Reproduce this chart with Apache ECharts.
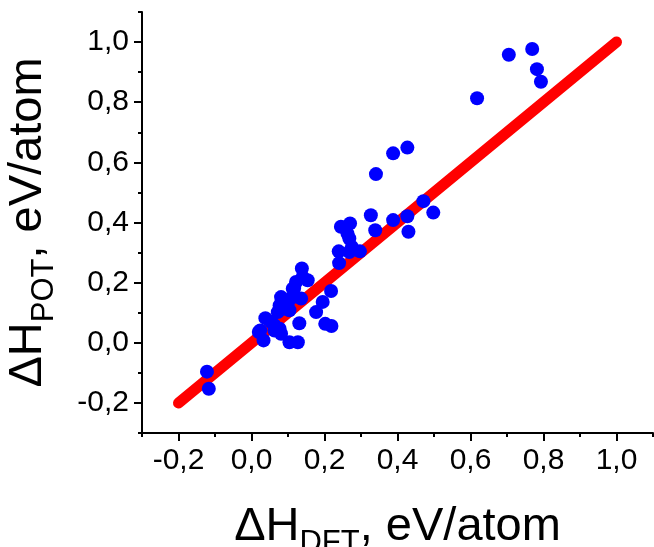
<!DOCTYPE html>
<html>
<head>
<meta charset="utf-8">
<script src="https://cdn.jsdelivr.net/npm/echarts@6/dist/echarts.min.js"></script>
<style>
html,body{margin:0;padding:0;background:#fff;overflow:hidden;}
#chart{position:absolute;left:0;top:0;width:654px;height:547px;}
</style>
</head>
<body>
<div id="chart"></div>
<script>
// ΔH_DFT values (x)
const dftValues = [-0.122, -0.117, 0.020, 0.033, 0.038, 0.024, 0.054, 0.063, 0.077, 0.081,
  0.104, 0.127, 0.131, 0.072, 0.077, 0.104, 0.086, 0.081, 0.099, 0.095,
  0.113, 0.117, 0.136, 0.110, 0.138, 0.140, 0.154, 0.122, 0.177, 0.195,
  0.202, 0.219, 0.218, 0.240, 0.239, 0.245, 0.270, 0.268, 0.263, 0.275,
  0.268, 0.297, 0.327, 0.339, 0.341, 0.388, 0.427, 0.388, 0.427, 0.430,
  0.471, 0.498, 0.618, 0.705, 0.769, 0.782, 0.793, 0.063];
// ΔH_POT values (y)
const potValues = [-0.096, -0.153, 0.036, 0.008, 0.082, 0.041, 0.069, 0.041, 0.047, 0.030,
  0.002, 0.002, 0.065, 0.102, 0.124, 0.108, 0.113, 0.152, 0.130, 0.136,
  0.180, 0.182, 0.147, 0.150, 0.247, 0.219, 0.208, 0.202, 0.102, 0.136,
  0.063, 0.056, 0.172, 0.265, 0.304, 0.386, 0.397, 0.347, 0.363, 0.319,
  0.302, 0.304, 0.424, 0.374, 0.561, 0.630, 0.649, 0.408, 0.421, 0.369,
  0.471, 0.433, 0.813, 0.958, 0.977, 0.910, 0.868, 0.058];
// y = x reference line ends
const idealLine = [-0.2, 1.0];
const majorTicks = [-0.2, 0.0, 0.2, 0.4, 0.6, 0.8, 1.0];
const minorTicks = [-0.3, -0.1, 0.1, 0.3, 0.5, 0.7, 0.9, 1.1];
const axisMin = -0.3, axisMax = 1.1;

const FONT = "'Liberation Sans', Arial, sans-serif";
const fmt = v => (Math.abs(v) < 1e-9 ? 0 : v).toFixed(1).replace('.', ',');

const nameRich = {
  m: { fontSize: 47, fontFamily: FONT, color: '#000' },
  s: { fontSize: 31, fontFamily: FONT, color: '#000', padding: [32, 0, 0, 0] }
};

function majorAxis(extra) {
  return Object.assign({
    type: 'value', min: axisMin, max: axisMax,
    axisLine: { show: true, onZero: false, lineStyle: { color: '#000', width: 2 } },
    axisTick: { show: true, customValues: majorTicks, length: 8, inside: false, lineStyle: { color: '#000', width: 2 } },
    axisLabel: { show: true, customValues: majorTicks, formatter: fmt, fontSize: 30, fontFamily: FONT, color: '#000', margin: 13 },
    splitLine: { show: false },
    nameLocation: 'middle',
    nameTextStyle: { rich: nameRich, fontFamily: FONT }
  }, extra);
}
function minorAxis(extra) {
  return Object.assign({
    type: 'value', min: axisMin, max: axisMax,
    axisLine: { show: false, onZero: false },
    axisTick: { show: true, customValues: minorTicks, length: 4, lineStyle: { color: '#000', width: 2 } },
    axisLabel: { show: false },
    splitLine: { show: false }
  }, extra);
}

const scatterData = dftValues.map((x, i) => [x, potValues[i]]);
const lineData = idealLine.map(v => [v, v]);

const chart = echarts.init(document.getElementById('chart'), null, { renderer: 'canvas', width: 654, height: 547 });
chart.setOption({
  animation: false,
  backgroundColor: '#fff',
  grid: { left: 142, right: 1, top: 12, bottom: 114, containLabel: false, outerBoundsMode: 'none' },
  xAxis: [
    majorAxis({ position: 'bottom', name: '{m|ΔH}{s|DFT}{m|, eV/atom}', nameGap: 63 }),
    minorAxis({ position: 'bottom' })
  ],
  yAxis: [
    majorAxis({ position: 'left', name: '{m|ΔH}{s|POT}{m|, eV/atom}', nameGap: 82, nameRotate: 90 }),
    minorAxis({ position: 'left' })
  ],
  series: [
    {
      type: 'line', data: lineData, xAxisIndex: 0, yAxisIndex: 0,
      symbol: 'none', z: 1,
      lineStyle: { color: '#ff0000', width: 11, cap: 'round' }
    },
    {
      type: 'scatter', data: scatterData, xAxisIndex: 0, yAxisIndex: 0,
      symbol: 'circle', symbolSize: 14, z: 2,
      itemStyle: { color: '#0000ff', opacity: 1 }
    }
  ]
});
</script>
</body>
</html>
